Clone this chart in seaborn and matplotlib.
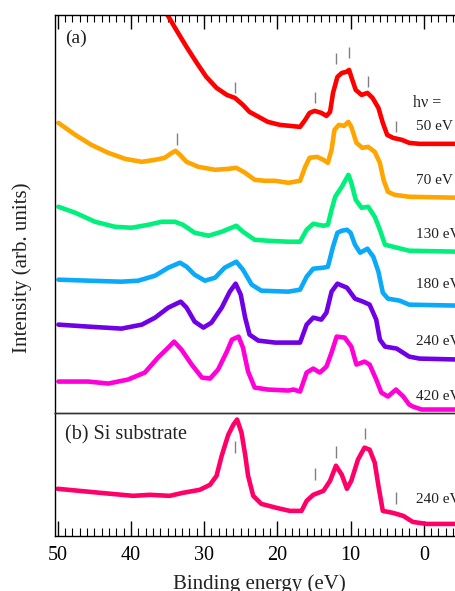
import matplotlib
matplotlib.use("Agg")
import matplotlib.pyplot as plt
import seaborn as sns
import pandas as pd
from matplotlib.ticker import MultipleLocator, FixedLocator

# ---------------- data (binding energy in eV, intensity in arb. units) ----------------
e_50 = [35.0, 33.8, 32.4, 31.0, 29.7, 28.3, 26.9, 25.8, 24.7, 23.8, 21.3, 19.65, 16.9, 16.2,
        15.6, 14.9, 14.0, 13.3, 12.8, 12.4, 11.8, 11.2, 10.6, 10.2, 9.9, 9.3, 8.5, 7.7, 7.0,
        6.2, 5.6, 5.0, 4.2, 3.0, 2.0, 0.6, -5.0]
i_50 = [398, 383, 366, 350, 336, 325, 318, 315, 308, 301, 291, 288, 286, 293,
        300, 302, 300, 297, 301, 320, 336, 340, 341, 343, 336, 323, 318, 320, 315,
        305, 290, 278, 275, 273, 270, 269, 269]

e_70 = [49.9, 47.6, 45.4, 43.1, 40.8, 38.5, 36.7, 35.4, 34.4, 33.9, 33.3, 32.4, 30.8, 28.5,
        26.7, 25.6, 24.4, 23.1, 21.7, 20.3, 18.5, 16.9, 16.2, 15.6, 14.6, 13.7, 13.1, 12.6,
        12.2, 11.6, 10.9, 10.3, 9.9, 9.2, 8.4, 7.6, 6.7, 6.0, 5.5, 4.9, 4.0, 2.0, -5.0]
i_70 = [290, 278, 268, 260, 254, 251, 253, 255, 260, 262, 258, 251, 246, 243,
        244, 245, 240, 233, 232, 232, 230, 232, 246, 255, 256, 253, 250, 263,
        283, 288, 287, 291, 286, 270, 265, 266, 261, 250, 233, 221, 218, 216, 215]

e_130 = [49.9, 47.6, 44.9, 42.2, 39.9, 37.6, 35.8, 34.0, 32.9, 31.3, 29.4, 27.6, 25.6, 24.7,
         23.1, 21.3, 18.5, 16.9, 16.0, 15.1, 13.7, 13.1, 12.6, 12.1, 11.2, 10.3, 9.9, 9.3,
         8.5, 7.6, 6.7, 6.0, 5.3, 4.2, 2.0, -5.0]
i_130 = [206, 200, 191, 186, 185, 188, 191, 191, 188, 180, 177, 181, 187, 181,
         173, 172, 171, 171, 183, 189, 187, 188, 203, 216, 226, 238, 230, 213,
         205, 206, 196, 183, 168, 166, 162, 161]

e_180 = [49.9, 45.8, 41.3, 39.0, 36.7, 34.9, 33.3, 32.4, 31.3, 29.9, 28.5, 27.2, 25.6, 24.7,
         23.5, 22.2, 18.5, 16.9, 16.0, 15.1, 13.7, 13.1, 12.4, 11.8, 11.2, 10.5, 10.0, 9.4,
         8.7, 7.7, 6.9, 6.2, 5.6, 4.9, 3.3, 2.0, -5.0]
i_180 = [133, 132, 131, 132, 137, 145, 150, 146, 138, 132, 135, 145, 151, 143,
         128, 122, 121, 123, 136, 144, 145, 146, 166, 180, 182, 183, 180, 168,
         160, 164, 156, 141, 120, 114, 112, 108, 107]

e_240 = [49.9, 45.8, 41.3, 38.5, 36.7, 34.9, 33.2, 32.4, 31.3, 30.1, 29.0, 27.6, 26.5, 25.7,
         25.0, 24.4, 23.8, 22.6, 20.3, 18.5, 16.9, 16.0, 15.1, 14.0, 13.3, 12.6, 11.8, 10.5,
         9.4, 8.3, 7.4, 6.5, 6.0, 5.3, 3.7, 2.0, 0.6, -5.0]
i_240 = [88, 86, 84, 88, 95, 105, 111, 105, 91, 85, 90, 105, 121, 129,
         118, 95, 78, 72, 70, 70, 70, 88, 95, 93, 100, 121, 129, 125,
         114, 111, 108, 93, 73, 66, 64, 56, 54, 53]

e_420 = [49.9, 45.8, 43.1, 40.4, 38.1, 36.3, 34.9, 34.1, 33.1, 31.7, 30.3, 29.2, 28.1, 26.9,
         26.2, 25.3, 24.7, 24.0, 23.1, 21.3, 18.5, 17.8, 16.9, 16.0, 15.1, 14.2, 13.3, 12.6,
         11.9, 10.8, 9.9, 9.2, 8.1, 7.4, 6.5, 5.8, 4.9, 3.8, 2.8, 2.0, 1.5, 0.3, -5.0]
i_420 = [31, 31, 29, 33, 40, 55, 65, 71, 63, 48, 35, 34, 43, 61,
         73, 76, 65, 41, 25, 23, 22, 23, 21, 40, 44, 40, 46, 60,
         76, 75, 66, 48, 51, 48, 33, 20, 16, 23, 16, 8, 6, 3, 3]

e_si = [50.0, 44.2, 39.7, 37.4, 34.7, 32.9, 30.6, 29.2, 28.3, 27.6, 26.7, 26.0, 25.5, 24.9,
        24.4, 24.0, 23.3, 22.2, 20.1, 18.3, 16.7, 16.0, 15.1, 13.7, 12.8, 12.0, 11.2, 10.5,
        9.9, 9.0, 8.1, 7.4, 6.7, 6.2, 5.6, 4.2, 2.8, 1.5, -0.4, -5.0]
i_si = [47, 43, 40, 41, 40, 43, 46, 51, 60, 80, 101, 111, 116, 103,
        81, 60, 40, 32, 28, 25, 25, 35, 41, 45, 55, 70, 61, 47,
        55, 76, 88, 86, 73, 50, 25, 23, 20, 14, 12, 12]

photon_labels = ["50 eV", "70 eV", "130 eV", "180 eV", "240 eV", "420 eV"]
label_levels = [286, 232, 178, 128, 71, 16]
series_colors = ["#FF0000", "#FFA500", "#00F07C", "#0AAAF8", "#7000E6", "#FF00D8"]
si_color = "#FF0068"

# feature markers: (energy, bottom, top)
marks_a = [(25.8, 320, 331), (14.9, 310, 321), (12.0, 349, 360), (10.2, 355, 366),
           (7.6, 326, 337), (3.8, 281, 292), (33.7, 268, 280)]
marks_b = [(25.8, 83, 95), (14.9, 56, 68), (12.0, 78, 90), (8.0, 97, 108), (3.8, 32, 44)]

# ---------------- figure ----------------
sns.set_theme(style="white")
plt.rcParams['font.family'] = ['Liberation Serif', 'DejaVu Serif']

fig = plt.figure(figsize=(4.56, 5.91), dpi=100)
axA = fig.add_axes([0.1217, 0.302, 0.888, 0.6726])
axB = fig.add_axes([0.1217, 0.0931, 0.888, 0.2089])
axB.patch.set_alpha(0.0)

series = [(e_50, i_50), (e_70, i_70), (e_130, i_130), (e_180, i_180), (e_240, i_240), (e_420, i_420)]
for (ee, ii), col in zip(series, series_colors):
    df = pd.DataFrame({"E": ee, "I": ii})
    sns.lineplot(data=df, x="E", y="I", ax=axA, color=col, linewidth=3.3,
                 sort=False, estimator=None, solid_capstyle="round", solid_joinstyle="round")

dfb = pd.DataFrame({"E": e_si, "I": i_si})
sns.lineplot(data=dfb, x="E", y="I", ax=axB, color=si_color, linewidth=3.3,
             sort=False, estimator=None, solid_capstyle="round", solid_joinstyle="round")

for ax in (axA, axB):
    ax.set_xlim(50.3, -5.0)
    ax.set_xlabel("")
    ax.set_ylabel("")
    ax.set_yticks([])
    ax.xaxis.set_major_locator(FixedLocator([50, 40, 30, 20, 10, 0]))
    ax.xaxis.set_minor_locator(MultipleLocator(1))
    ax.spines['right'].set_visible(False)
    ax.spines['left'].set_color('black')
    ax.spines['left'].set_linewidth(1.0)

axA.set_ylim(0, 398)
axB.set_ylim(0, 123)

for e, lo, hi in marks_a:
    axA.vlines(e, lo, hi, color="#808080", linewidth=1.0)
for e, lo, hi in marks_b:
    axB.vlines(e, lo, hi, color="#808080", linewidth=1.0)

axA.spines['top'].set_color('black')
axA.spines['top'].set_linewidth(1.0)
axA.spines['bottom'].set_color('#333333')
axA.spines['bottom'].set_linewidth(1.0)
axA.tick_params(axis='x', which='both', direction='in', top=True, bottom=False,
                labeltop=False, labelbottom=False, color='black')
axA.tick_params(axis='x', which='major', length=10, width=1.0)
axA.tick_params(axis='x', which='minor', length=5, width=0.8)

axB.spines['top'].set_visible(True)
axB.spines['top'].set_color('#333333')
axB.spines['top'].set_linewidth(1.0)
axB.spines['bottom'].set_color('black')
axB.spines['bottom'].set_linewidth(1.0)
axB.tick_params(axis='x', which='both', direction='in', top=False, bottom=True,
                labelbottom=True, color='black')
axB.tick_params(axis='x', which='major', length=11, width=1.0, pad=7, labelsize=14.5,
                labelcolor='black')
axB.tick_params(axis='x', which='minor', length=6, width=0.8)

# texts
axA.text(49.0, 375, "(a)", fontsize=14, ha='left', va='center', color='#222222')
axB.text(49.0, 101, "(b) Si substrate", fontsize=14.5, ha='left', va='center', color='#222222')
axA.text(1.5, 310, "hν =", fontsize=11.5, ha='left', va='center', color='#222222')
for lab, lev in zip(photon_labels, label_levels):
    axA.text(1.1, lev, lab, fontsize=11, ha='left', va='center', color='#222222')
axB.text(1.1, 36, "240 eV", fontsize=11, ha='left', va='center', color='#222222')

fig.text(0.048, 0.5465, "Intensity (arb. units)", rotation=90, fontsize=15,
         ha='center', va='center', color='#222222')
fig.text(0.569, 0.029, "Binding energy (eV)", fontsize=15, ha='center', va='top',
         color='#222222')

fig.savefig("out.png", dpi=100)
